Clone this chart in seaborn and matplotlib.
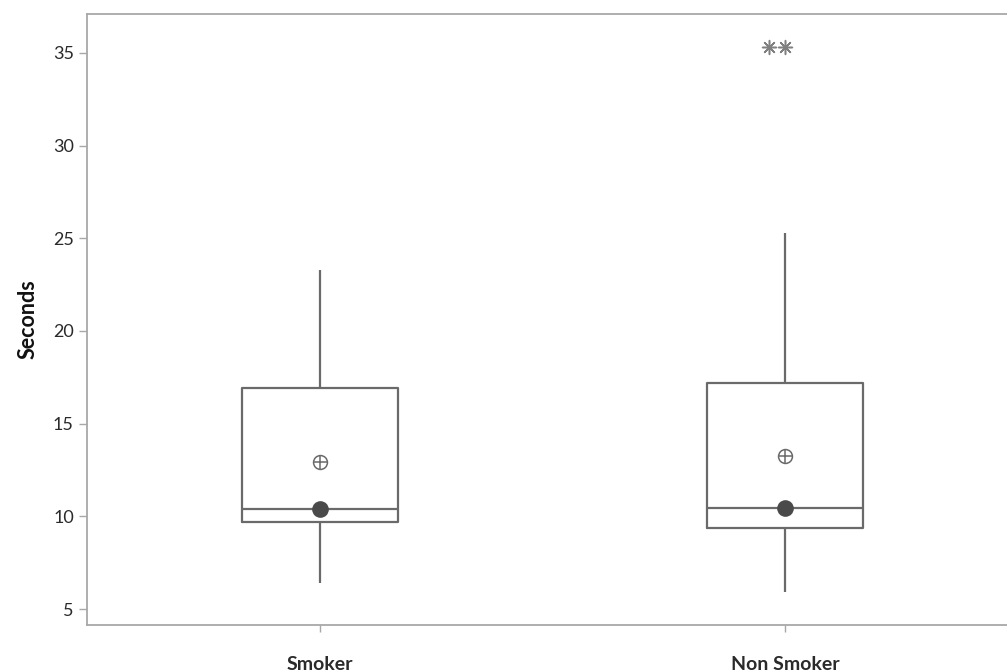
import numpy as np
import pandas as pd
import seaborn as sns
import matplotlib.pyplot as plt

# Values (Minitab style boxplot)
groups = ['Smoker', 'Non Smoker']
whisker_low = [6.4, 5.9]
q1 = [9.7, 9.35]
median = [10.4, 10.45]
q3 = [16.95, 17.2]
whisker_high = [23.3, 25.3]
means = [12.95, 13.25]
outlier_group = ['Non Smoker', 'Non Smoker']
outlier_value = [35.3, 35.3]

sns.set_style('white')
plt.rcParams['font.family'] = ['Lato', 'DejaVu Sans']

# five-number table per group, drawn with whiskers at min/max
stats = np.column_stack([whisker_low, q1, median, q3, whisker_high])
box_df = pd.DataFrame({'group': np.repeat(groups, 5), 'seconds': stats.ravel()})

fig = plt.figure(figsize=(10.07, 6.72), dpi=100)
ax = fig.add_axes([0.0864, 0.0699, 0.9136, 0.9093])

line_col = '#6a6a6a'
sns.boxplot(data=box_df, x='group', y='seconds', order=groups, whis=(0, 100),
            width=0.335, fill=False, color=line_col, linewidth=1.6,
            showcaps=False, showfliers=False, ax=ax)

# median dots
sns.stripplot(x=groups, y=median, order=groups, jitter=False, color='#4a4a4a',
              size=12, linewidth=0, ax=ax)

# mean symbol: circle with cross
sns.stripplot(x=groups, y=means, order=groups, jitter=False, color='white',
              edgecolor=line_col, linewidth=1.1, size=10, ax=ax)
sns.stripplot(x=groups, y=means, order=groups, jitter=False, marker='+',
              color=line_col, edgecolor=line_col, linewidth=1.1, size=10, ax=ax)

# outliers
sns.swarmplot(x=outlier_group, y=outlier_value, order=groups, marker=(8, 2, 0),
              color='#808080', edgecolor='#808080', linewidth=1.1, size=10, ax=ax)

ax.set_xlim(-0.501, 1.477)
ax.set_ylim(4.14, 37.1)
ax.set_yticks([5, 10, 15, 20, 25, 30, 35])

for s in ['left', 'bottom', 'top']:
    ax.spines[s].set_color('#a8a8a8')
    ax.spines[s].set_linewidth(1.3)
ax.spines['right'].set_visible(False)

ax.tick_params(axis='both', bottom=True, left=True, direction='out', length=6,
               width=1, color='#a8a8a8', labelcolor='#2a2a2a', labelsize=13)
ax.tick_params(axis='x', length=5, pad=17)
for lab in ax.get_xticklabels():
    lab.set_fontweight('bold')
    lab.set_fontsize(14)

ax.set_xlabel('')
ax.set_ylabel('Seconds', fontsize=15.5, fontweight='bold', color='#111111', labelpad=10)

fig.savefig('out.png', dpi=100)
